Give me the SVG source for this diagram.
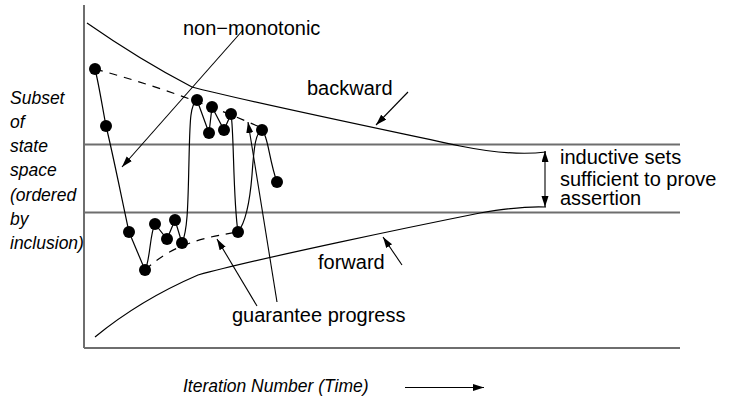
<svg xmlns="http://www.w3.org/2000/svg" width="741" height="398" viewBox="0 0 741 398">
<style>
.axis{stroke:#6e6e6e;stroke-width:2;fill:none}
.curve{stroke:#000;stroke-width:1.2;fill:none}
.dash{stroke:#000;stroke-width:1.2;fill:none;stroke-dasharray:8 7}
.arr{stroke:#000;stroke-width:1.1;fill:none;marker-end:url(#ah)}
.dot{fill:#000}
.lbl{font-family:"Liberation Sans",Arial,sans-serif;font-size:20px;fill:#000}
.ital{font-family:"Liberation Sans",Arial,sans-serif;font-size:17.5px;font-style:italic;fill:#000}
</style>
<defs>
<marker id="ah" markerUnits="userSpaceOnUse" markerWidth="12" markerHeight="8" refX="11" refY="3.5" orient="auto">
<path d="M0,0 L11,3.5 L0,7 z" fill="#000"/>
</marker>
<marker id="ahs" markerUnits="userSpaceOnUse" markerWidth="12" markerHeight="8" refX="11" refY="3.5" orient="auto-start-reverse">
<path d="M0,0 L11,3.5 L0,7 z" fill="#000"/>
</marker>
</defs>
<g id="axes">
<line class="axis" x1="84" y1="5" x2="84" y2="348"/>
<line class="axis" x1="84" y1="348" x2="680" y2="348"/>
<line class="axis" x1="84" y1="144.5" x2="680" y2="144.5"/>
<line class="axis" x1="84" y1="212.5" x2="680" y2="212.5"/>
</g>
<g id="backward-curve">
<path class="curve" d="M87,23 Q140,60 192,87 C240,100 400,133 460,146 C500,154 530,154 546,152"/>
</g>
<g id="forward-curve">
<path class="curve" d="M95,337 Q140,300 198,275 C260,258 420,225 480,213 C510,208 530,206 546,207"/>
</g>
<g id="dashed-bounds">
<path class="dash" d="M95,69 Q180,92 262,128"/>
<path class="dash" d="M145,270 C165,252 185,240 238,232"/>
</g>
<g id="trajectory">
<path class="curve" d="M95,69 C99,85 102,105 106,126"/>
<path class="curve" d="M106,126 C112,150 120,190 129,232"/>
<path class="curve" d="M129,232 L145,270"/>
<path class="curve" d="M145,270 C150,262 150,232 155,224"/>
<path class="curve" d="M155,224 L167,239 L175,220 L182,243"/>
<path class="curve" d="M182,243 C188,230 188,200 189,160 C190,120 190,105 197,100"/>
<path class="curve" d="M197,100 L209,133 L212,107 L224,130 L231,114"/>
<path class="curve" d="M231,114 C234,130 233,200 238,232"/>
<path class="curve" d="M238,232 C246,222 250,200 252,175 C254,145 256,132 262,130"/>
<path class="curve" d="M262,130 C268,135 269,160 277,182"/>
</g>
<g id="states">
<circle class="dot" cx="95" cy="69" r="6"/>
<circle class="dot" cx="106" cy="126" r="6"/>
<circle class="dot" cx="129" cy="232" r="6"/>
<circle class="dot" cx="145" cy="270" r="6"/>
<circle class="dot" cx="155" cy="224" r="6"/>
<circle class="dot" cx="167" cy="239" r="6"/>
<circle class="dot" cx="175" cy="220" r="6"/>
<circle class="dot" cx="182" cy="243" r="6"/>
<circle class="dot" cx="197" cy="100" r="6"/>
<circle class="dot" cx="209" cy="133" r="6"/>
<circle class="dot" cx="212" cy="107" r="6"/>
<circle class="dot" cx="224" cy="130" r="6"/>
<circle class="dot" cx="231" cy="114" r="6"/>
<circle class="dot" cx="238" cy="232" r="6"/>
<circle class="dot" cx="262" cy="130" r="6"/>
<circle class="dot" cx="277" cy="182" r="6"/>
</g>
<g id="connectors">
<line class="arr" x1="243" y1="30" x2="122" y2="167"/>
<line class="arr" x1="408" y1="92" x2="376" y2="125"/>
<line class="arr" x1="402" y1="265" x2="383" y2="237"/>
<line class="arr" x1="257" y1="306" x2="217" y2="239"/>
<line class="arr" x1="277" y1="302" x2="248" y2="122"/>
<line class="arr" x1="545" y1="207" x2="545" y2="151" style="marker-start:url(#ahs)"/>
<line class="arr" x1="405" y1="387.5" x2="484" y2="387.5"/>
</g>
<g id="labels">
<text class="lbl" x="183" y="35">non−monotonic</text>
<text class="lbl" x="307" y="95">backward</text>
<text class="lbl" x="318" y="269">forward</text>
<text class="lbl" x="232" y="322">guarantee progress</text>
<text class="lbl" x="560" y="164">inductive sets</text>
<text class="lbl" x="560" y="185.5">sufficient to prove</text>
<text class="lbl" x="560" y="205">assertion</text>
<text class="ital" x="183" y="392">Iteration Number (Time)</text>
<text class="ital" x="10" y="103.5">Subset</text>
<text class="ital" x="10" y="127.5">of</text>
<text class="ital" x="10" y="152">state</text>
<text class="ital" x="10" y="176">space</text>
<text class="ital" x="10" y="200.5">(ordered</text>
<text class="ital" x="10" y="225">by</text>
<text class="ital" x="10" y="249">inclusion)</text>
</g>
</svg>
